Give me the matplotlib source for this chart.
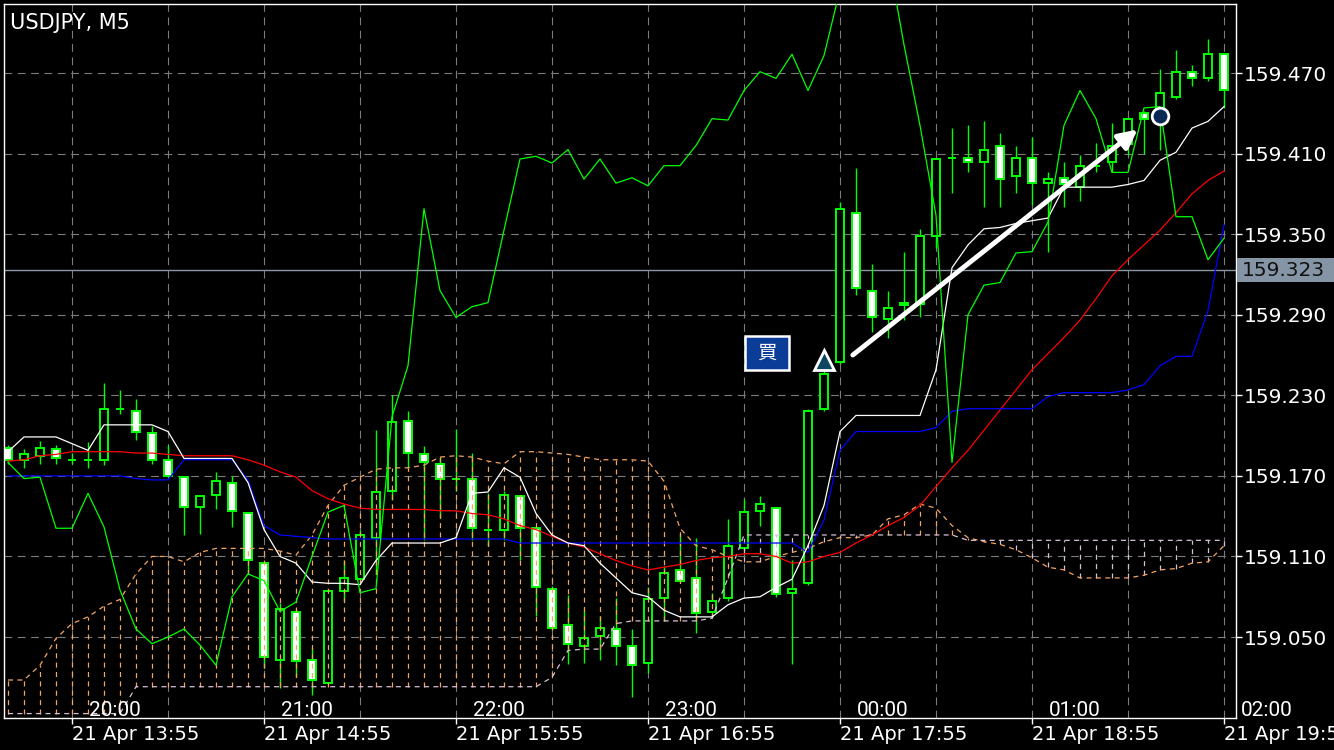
import numpy as np
import matplotlib.pyplot as plt
from matplotlib.patches import Rectangle
from matplotlib.transforms import blended_transform_factory

plt.rcParams['font.family'] = ['DejaVu Sans', 'Noto Sans CJK JP']

# USDJPY M5, bars 21 Apr 13:35 .. 19:55 (server time)
opens = [159.191, 159.182, 159.185, 159.190, 159.182, 159.182, 159.182, 159.220, 159.218, 159.202,
         159.182, 159.169, 159.147, 159.156, 159.165, 159.142, 159.105, 159.033, 159.069, 159.033,
         159.016, 159.084, 159.093, 159.124, 159.159, 159.211, 159.186, 159.179, 159.168, 159.168,
         159.130, 159.130, 159.155, 159.131, 159.086, 159.059, 159.043, 159.051, 159.056, 159.043,
         159.031, 159.079, 159.100, 159.094, 159.069, 159.079, 159.116, 159.144, 159.146, 159.083,
         159.090, 159.220, 159.255, 159.366, 159.308, 159.287, 159.297, 159.298, 159.349, 159.407,
         159.407, 159.404, 159.416, 159.393, 159.407, 159.388, 159.392, 159.385, 159.401, 159.404,
         159.417, 159.440, 159.440, 159.452, 159.471, 159.466, 159.484]
highs = [159.193, 159.190, 159.196, 159.193, 159.187, 159.195, 159.239, 159.234, 159.227, 159.207,
         159.193, 159.169, 159.155, 159.173, 159.170, 159.142, 159.106, 159.075, 159.071, 159.042,
         159.086, 159.107, 159.130, 159.204, 159.230, 159.218, 159.192, 159.184, 159.205, 159.187,
         159.157, 159.159, 159.156, 159.133, 159.088, 159.081, 159.070, 159.066, 159.079, 159.056,
         159.087, 159.103, 159.127, 159.124, 159.083, 159.138, 159.153, 159.155, 159.147, 159.107,
         159.220, 159.260, 159.374, 159.399, 159.328, 159.308, 159.337, 159.354, 159.407, 159.429,
         159.431, 159.434, 159.425, 159.416, 159.422, 159.396, 159.404, 159.409, 159.418, 159.433,
         159.436, 159.442, 159.473, 159.487, 159.476, 159.495, 159.484]
lows = [159.179, 159.176, 159.179, 159.179, 159.179, 159.176, 159.178, 159.216, 159.197, 159.179,
        159.169, 159.126, 159.127, 159.145, 159.132, 159.098, 159.027, 159.012, 159.020, 159.007,
        159.015, 159.077, 159.091, 159.097, 159.152, 159.176, 159.122, 159.139, 159.159, 159.122,
        159.118, 159.122, 159.107, 159.066, 159.055, 159.030, 159.031, 159.033, 159.029, 159.005,
        159.023, 159.062, 159.091, 159.053, 159.064, 159.077, 159.115, 159.133, 159.080, 159.030,
        159.089, 159.218, 159.253, 159.305, 159.277, 159.273, 159.286, 159.288, 159.340, 159.381,
        159.396, 159.370, 159.370, 159.381, 159.372, 159.337, 159.370, 159.375, 159.396, 159.396,
        159.409, 159.410, 159.413, 159.451, 159.460, 159.464, 159.444]
closes = [159.182, 159.186, 159.191, 159.183, 159.182, 159.182, 159.220, 159.220, 159.203, 159.182,
          159.170, 159.147, 159.155, 159.166, 159.144, 159.107, 159.035, 159.071, 159.032, 159.018,
          159.084, 159.094, 159.126, 159.158, 159.210, 159.187, 159.180, 159.168, 159.168, 159.131,
          159.130, 159.156, 159.131, 159.087, 159.057, 159.045, 159.049, 159.057, 159.043, 159.029,
          159.078, 159.098, 159.092, 159.068, 159.077, 159.118, 159.143, 159.149, 159.082, 159.086,
          159.218, 159.246, 159.369, 159.310, 159.288, 159.295, 159.299, 159.349, 159.406, 159.407,
          159.404, 159.413, 159.391, 159.407, 159.388, 159.391, 159.387, 159.401, 159.401, 159.416,
          159.436, 159.436, 159.455, 159.471, 159.466, 159.484, 159.457]

# indicator lines
white_line = [159.188, 159.199, 159.199, 159.199, 159.194, 159.189, 159.208, 159.208, 159.208, 159.208,
              159.203, 159.183, 159.183, 159.183, 159.183, 159.165, 159.130, 159.110, 159.105, 159.091,
              159.090, 159.090, 159.089, 159.107, 159.120, 159.120, 159.120, 159.120, 159.124, 159.157,
              159.158, 159.176, 159.169, 159.142, 159.126, 159.120, 159.118, 159.105, 159.094, 159.083,
              159.080, 159.070, 159.065, 159.065, 159.065, 159.074, 159.079, 159.080, 159.087, 159.093,
              159.118, 159.148, 159.203, 159.215, 159.215, 159.215, 159.215, 159.215, 159.249, 159.325,
              159.342, 159.354, 159.355, 159.358, 159.360, 159.362, 159.385, 159.385, 159.385, 159.385,
              159.387, 159.390, 159.405, 159.411, 159.429, 159.434, 159.445]
blue_line = [159.170, 159.170, 159.170, 159.170, 159.170, 159.170, 159.170, 159.170, 159.168, 159.167,
             159.167, 159.182, 159.182, 159.182, 159.182, 159.167, 159.133, 159.126, 159.125, 159.124,
             159.123, 159.123, 159.123, 159.123, 159.123, 159.123, 159.123, 159.123, 159.123, 159.123,
             159.123, 159.123, 159.120, 159.120, 159.120, 159.120, 159.120, 159.120, 159.120, 159.120,
             159.120, 159.120, 159.120, 159.120, 159.120, 159.120, 159.120, 159.120, 159.120, 159.120,
             159.113, 159.137, 159.189, 159.203, 159.203, 159.203, 159.203, 159.203, 159.206, 159.218,
             159.220, 159.220, 159.220, 159.220, 159.220, 159.229, 159.232, 159.232, 159.232, 159.232,
             159.234, 159.238, 159.252, 159.259, 159.259, 159.293, 159.357]
red_line = [159.181, 159.182, 159.185, 159.186, 159.188, 159.188, 159.188, 159.188, 159.187, 159.187,
            159.186, 159.185, 159.185, 159.185, 159.185, 159.182, 159.178, 159.173, 159.169, 159.159,
            159.153, 159.149, 159.146, 159.145, 159.145, 159.145, 159.145, 159.144, 159.144, 159.142,
            159.141, 159.138, 159.133, 159.130, 159.125, 159.120, 159.117, 159.112, 159.107, 159.103,
            159.100, 159.102, 159.104, 159.107, 159.109, 159.110, 159.112, 159.112, 159.110, 159.105,
            159.106, 159.110, 159.113, 159.120, 159.126, 159.133, 159.139, 159.148, 159.162, 159.176,
            159.189, 159.204, 159.219, 159.234, 159.249, 159.261, 159.273, 159.286, 159.302, 159.319,
            159.331, 159.342, 159.353, 159.366, 159.380, 159.390, 159.397]
green_line = [159.180, 159.168, 159.169, 159.131, 159.131, 159.157, 159.132, 159.085, 159.056, 159.045,
              159.050, 159.056, 159.044, 159.029, 159.080, 159.097, 159.092, 159.069, 159.076, 159.110,
              159.143, 159.148, 159.083, 159.086, 159.214, 159.252, 159.369, 159.308, 159.288, 159.296,
              159.299, 159.353, 159.406, 159.408, 159.403, 159.413, 159.391, 159.406, 159.388, 159.392,
              159.386, 159.401, 159.401, 159.416, 159.436, 159.435, 159.457, 159.471, 159.466, 159.484,
              159.457, 159.483, 159.532, 159.558, 159.569, 159.558, 159.491, 159.431, 159.364, 159.180,
              159.290, 159.312, 159.314, 159.336, 159.337, 159.359, 159.431, 159.457, 159.436, 159.396,
              159.396, 159.444, 159.445, 159.363, 159.363, 159.331, 159.347]
span_a = [159.018, 159.018, 159.029, 159.049, 159.060, 159.065, 159.073, 159.078, 159.097, 159.110,
          159.110, 159.106, 159.113, 159.116, 159.116, 159.116, 159.116, 159.114, 159.111, 159.126,
          159.148, 159.163, 159.169, 159.175, 159.176, 159.176, 159.178, 159.184, 159.185, 159.184,
          159.181, 159.179, 159.188, 159.188, 159.187, 159.186, 159.184, 159.182, 159.182, 159.182,
          159.181, 159.166, 159.131, 159.118, 159.115, 159.110, 159.106, 159.106, 159.110, 159.113,
          159.116, 159.121, 159.124, 159.124, 159.126, 159.138, 159.141, 159.149, 159.146, 159.133,
          159.124, 159.121, 159.119, 159.115, 159.109, 159.102, 159.100, 159.094, 159.094, 159.094,
          159.094, 159.096, 159.100, 159.101, 159.105, 159.106, 159.118]
span_b = [158.993] * 8 + [159.013] * 26 + [159.020, 159.040, 159.041, 159.041, 159.060, 159.062,
          159.062, 159.062, 159.062, 159.062, 159.064, 159.094] + [159.126] * 14 + [159.122] * 17

price_ticks = [159.050, 159.110, 159.170, 159.230, 159.290, 159.350, 159.410, 159.470]
grid_idx = list(range(4, 77, 6))
date_idx = [4, 16, 28, 40, 52, 64, 76]
date_labels = ["21 Apr 13:55", "21 Apr 14:55", "21 Apr 15:55", "21 Apr 16:55",
               "21 Apr 17:55", "21 Apr 18:55", "21 Apr 19:55"]
local_idx = [5, 17, 29, 41, 53, 65, 77]
local_labels = ["20:00", "21:00", "22:00", "23:00", "00:00", "01:00", "02:00"]
last_price = 159.323

# chart objects
buy_box = (46.06, 159.249, 2.75, 0.025)   # x, y, w, h
buy_mark = (51, 159.256)
exit_mark = (72, 159.438)
arrow_from = (52.8, 159.260)
arrow_to = (70.6, 159.428)

fig = plt.figure(figsize=(13.34, 7.5), dpi=100, facecolor='black')
ax = fig.add_axes([4 / 1334, 32 / 750, 1232 / 1334, 714 / 750], facecolor='black')
ax.set_xlim(-0.25, 76.75)
ax.set_ylim(158.9897, 159.5214)

grid_kw = dict(color='#7c7c7c', lw=0.8, ls=(0, (7, 5)), zorder=0.5)
for g in grid_idx:
    ax.axvline(g, **grid_kw)
for p in price_ticks:
    ax.axhline(p, **grid_kw)
ax.axhline(last_price, color='#8a96a4', lw=1, zorder=1)

# candles
x = np.arange(len(opens))
o = np.array(opens); h = np.array(highs); l = np.array(lows); c = np.array(closes)
ax.vlines(x, l, h, color='#00ff00', lw=1, zorder=2)
faces = np.where(c < o, 'white', 'black')
ax.bar(x, np.abs(c - o), bottom=np.minimum(o, c), width=0.56, color=faces,
       edgecolor='#00ff00', linewidth=1.4, zorder=2.5)

# cloud
a = np.array(span_a); b = np.array(span_b)
hatch_cols = np.where(a >= b, '#f4a460', '#d8bfd8')
ax.vlines(x, np.minimum(a, b), np.maximum(a, b), colors=hatch_cols, lw=0.9,
          linestyles=(0, (4, 3.5)), zorder=3)
ax.plot(x, a, color='#f4a460', lw=0.9, ls=(0, (4, 3.5)), zorder=3)
ax.plot(x, b, color='#d8bfd8', lw=0.9, ls=(0, (4, 3.5)), zorder=3)

ax.plot(x, red_line, color='#ff0000', lw=0.9, zorder=4)
ax.plot(x, blue_line, color='#0000ff', lw=0.9, zorder=4)
ax.plot(x, white_line, color='white', lw=0.9, zorder=4)
ax.plot(x, green_line, color='#00ff00', lw=0.9, zorder=4)

# trade objects
ax.add_patch(Rectangle(buy_box[:2], buy_box[2], buy_box[3], facecolor='#0b3d98',
                       edgecolor='white', lw=1.8, zorder=6))
ax.text(buy_box[0] + buy_box[2] / 2, buy_box[1] + buy_box[3] / 2, '買', color='white',
        fontsize=14, ha='center', va='center', zorder=7,
        family=['Noto Sans CJK JP', 'DejaVu Sans'])
ax.plot(*buy_mark, marker='^', ms=15, mfc='#0d4660', mec='white', mew=2, zorder=6)
ax.plot(*exit_mark, marker='o', ms=12, mfc='#0a2a55', mec='white', mew=2, zorder=6)
ax.annotate('', xy=arrow_to, xytext=arrow_from,
            arrowprops=dict(arrowstyle='-|>', color='white', lw=3.5, mutation_scale=28,
                            shrinkA=0, shrinkB=0), zorder=6)

# frame and axes
for s in ax.spines.values():
    s.set_color('white')
    s.set_linewidth(1)
ax.yaxis.tick_right()
ax.set_yticks(price_ticks)
ax.set_yticklabels([f"{p:.3f}" for p in price_ticks])
ax.tick_params(axis='y', colors='white', length=4, width=1, pad=1.5, labelsize=14.5)
ax.set_xticks(date_idx)
ax.set_xticklabels([])
ax.tick_params(axis='x', colors='white', length=4, width=1)

tr = blended_transform_factory(ax.transData, ax.transAxes)
for k, lab in zip(date_idx, date_labels):
    ax.text(k, -0.031, lab, transform=tr, color='white', fontsize=14, ha='left',
            va='baseline', clip_on=False)
for k, lab in zip(local_idx, local_labels):
    ax.text(k + 0.05, 0.003, lab, transform=tr, color='white', fontsize=15, ha='left',
            va='baseline', clip_on=False, family='Roboto')

tr2 = blended_transform_factory(ax.transAxes, ax.transData)
ax.add_patch(Rectangle((1.0008, last_price - 0.0089), 0.08, 0.0178, transform=tr2,
                       facecolor='#8595a6', edgecolor='none', clip_on=False, zorder=5))
ax.text(1.0049, last_price, f"{last_price:.3f}", transform=tr2, color='#111111',
        fontsize=14.5, ha='left', va='center', clip_on=False, zorder=6)

fig.text(10 / 1334, 1 - 29 / 750, 'USDJPY, M5', color='white', fontsize=15,
         ha='left', va='baseline')

fig.savefig('out.png', dpi=100, facecolor='black')
